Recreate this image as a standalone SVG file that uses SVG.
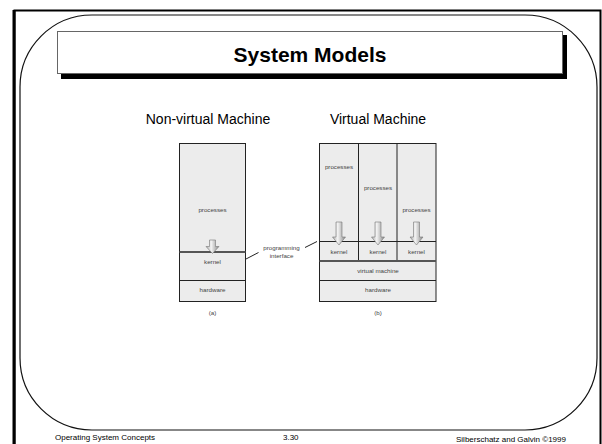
<svg xmlns="http://www.w3.org/2000/svg" width="602" height="444" viewBox="0 0 602 444">
<defs>
<style>
.t{font-family:"Liberation Sans",Arial,sans-serif;fill:#000}
.s{font-family:"Liberation Sans",Arial,sans-serif;font-size:6.2px;fill:#444;text-anchor:middle}
.box{fill:#ececec;stroke:#222;stroke-width:1}
.ln{stroke:#222;stroke-width:1}
.thick{stroke:#555;stroke-width:2}
.arr{fill:url(#ag);stroke:#777;stroke-width:0.6}
.ptr{stroke:#222;stroke-width:1}
</style>
<linearGradient id="ag" x1="0" y1="0" x2="1" y2="0">
<stop offset="0" stop-color="#aaa"/>
<stop offset="0.4" stop-color="#f4f4f4"/>
<stop offset="1" stop-color="#888"/>
</linearGradient>
</defs>
<rect width="602" height="444" fill="#fff"/>
<g id="frame">
<path d="M14.5,444 V10.5 H600.5 V444" fill="none" stroke="#000" stroke-width="2"/>
<line x1="14" y1="10" x2="14" y2="444" stroke="#000" stroke-width="3"/>
<rect x="20" y="15" width="577" height="415" rx="72" ry="72" fill="none" stroke="#111" stroke-width="1.2"/>
</g>
<g id="title">
<rect x="61" y="35" width="506" height="44" fill="#000"/>
<rect x="57.5" y="31.5" width="505" height="42" fill="#fff" stroke="#666" stroke-width="1"/>
<text class="t" x="310" y="61.5" font-size="21" font-weight="bold" text-anchor="middle">System Models</text>
</g>
<text class="t" x="208" y="124" font-size="14" text-anchor="middle">Non-virtual Machine</text>
<text class="t" x="378" y="124" font-size="14" text-anchor="middle">Virtual Machine</text>
<g id="nonvirtual">
<rect class="box" x="179.5" y="143.5" width="66" height="158"/>
<line class="thick" x1="179.5" y1="252" x2="245.5" y2="252"/>
<line class="ln" x1="179.5" y1="280.5" x2="245.5" y2="280.5"/>
<text class="s" x="212.5" y="212">processes</text>
<path class="arr" d="M209.5,240 H215.5 V246.5 H219 L212.5,253.5 L206,246.5 H209.5 Z"/>
<text class="s" x="212.5" y="264">kernel</text>
<text class="s" x="212.5" y="292">hardware</text>
<text class="s" x="212.5" y="315">(a)</text>
</g>
<g id="virtual">
<rect class="box" x="319.5" y="143.5" width="116.5" height="158"/>
<line class="ln" x1="358.5" y1="143.5" x2="358.5" y2="261"/>
<line class="ln" x1="397" y1="143.5" x2="397" y2="261"/>
<line class="ln" x1="319.5" y1="241.5" x2="436" y2="241.5"/>
<line class="thick" x1="319.5" y1="261" x2="436" y2="261"/>
<line class="ln" x1="319.5" y1="280.5" x2="436" y2="280.5"/>
<text class="s" x="339" y="169">processes</text>
<text class="s" x="378" y="190">processes</text>
<text class="s" x="416.5" y="212">processes</text>
<path class="arr" d="M336,222 H342 V237 H345.5 L339,245 L332.5,237 H336 Z"/>
<path class="arr" d="M375,222 H381 V237 H384.5 L378,245 L371.5,237 H375 Z"/>
<path class="arr" d="M413.5,222 H419.5 V237 H423 L416.5,245 L410,237 H413.5 Z"/>
<text class="s" x="339" y="254">kernel</text>
<text class="s" x="378" y="254">kernel</text>
<text class="s" x="416.5" y="254">kernel</text>
<text class="s" x="378" y="273">virtual machine</text>
<text class="s" x="378" y="292">hardware</text>
<text class="s" x="378" y="315">(b)</text>
</g>
<g id="connectors">
<line class="ptr" x1="246" y1="259" x2="258.5" y2="252.5"/>
<line class="ptr" x1="305" y1="247.5" x2="317" y2="241.5"/>
</g>
<g id="label-interface">
<text class="s" x="281.5" y="250">programming</text>
<text class="s" x="281.5" y="257.5">interface</text>
</g>
<g id="footer">
<text class="t" x="55" y="440" font-size="8">Operating System Concepts</text>
<text class="t" x="283" y="440" font-size="8">3.30</text>
<text class="t" x="456" y="442" font-size="8">Silberschatz and Galvin ©1999</text>
</g>
</svg>
